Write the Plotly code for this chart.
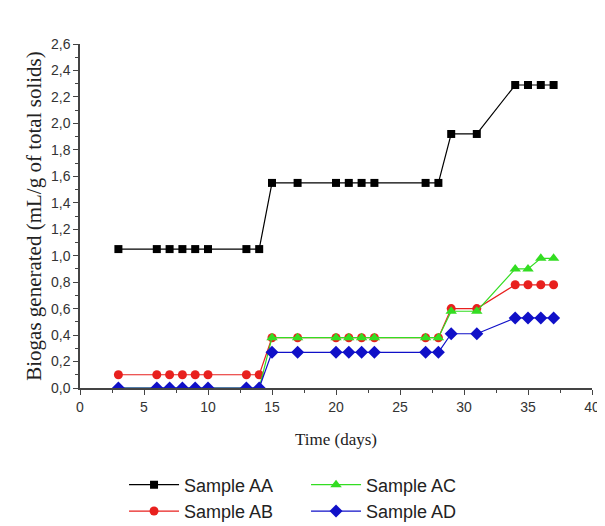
import plotly.graph_objects as go

days = [3, 6, 7, 8, 9, 10, 13, 14, 15, 17, 20, 21, 22, 23, 27, 28, 29, 31, 34, 35, 36, 37]
sample_aa = [1.05]*8 + [1.55]*8 + [1.92, 1.92] + [2.29]*4
sample_ab = [0.10]*8 + [0.38]*8 + [0.60, 0.60] + [0.78]*4
sample_ac = [0.00]*8 + [0.38]*8 + [0.58, 0.58] + [0.90, 0.90, 0.98, 0.98]
sample_ad = [0.00]*8 + [0.27]*8 + [0.41, 0.41] + [0.53]*4

series = [
    ("Sample AA", sample_aa, "black", "square", 8, 1),
    ("Sample AB", sample_ab, "#e8201e", "circle", 9, 3),
    ("Sample AC", sample_ac, "#33dd22", "triangle-up", 10, 2),
    ("Sample AD", sample_ad, "#1010c8", "diamond", 10, 4),
]

fig = go.Figure()
for name, vals, color, sym, size, rank in series:
    fig.add_trace(go.Scatter(
        x=days, y=vals, name=name, mode="lines+markers",
        line=dict(color=color, width=1.2),
        marker=dict(symbol=sym, size=size, color=color),
        legendrank=rank,
    ))

axis_common = dict(
    showline=True, linecolor="#444", linewidth=1.5, mirror=False,
    ticks="outside", ticklen=5, tickcolor="#444", tickwidth=1.2,
    showgrid=False, zeroline=False,
    tickfont=dict(family="Arial, Liberation Sans, sans-serif", size=14, color="#333"),
)

fig.update_layout(
    width=597, height=518,
    margin=dict(l=72, r=13, t=36, b=138, autoexpand=False),
    paper_bgcolor="white", plot_bgcolor="white",
    separators=",.",
    xaxis=dict(range=[0, 40], dtick=5, tick0=0,
               minor=dict(ticks="outside", ticklen=3, dtick=2.5, tickcolor="#444"),
               title=dict(text="Time (days)", font=dict(family="Liberation Serif, Times New Roman, serif", size=17, color="#222"), standoff=20),
               **axis_common),
    yaxis=dict(range=[0, 2.6], dtick=0.2, tick0=0, tickformat=".1f",
               minor=dict(ticks="outside", ticklen=3, dtick=0.1, tickcolor="#444"),
               title=dict(text="Biogas generated (mL/g of total solids)", font=dict(family="Liberation Serif, Times New Roman, serif", size=21, color="#222"), standoff=4),
               **axis_common),
    legend=dict(orientation="h", x=0.086, xanchor="left", y=-0.228, yanchor="top",
                entrywidth=117, entrywidthmode="pixels", tracegroupgap=0,
                font=dict(family="Arial, Liberation Sans, sans-serif", size=18, color="#222"),
                itemwidth=50),
    showlegend=True,
)

fig.write_html("out.html")
